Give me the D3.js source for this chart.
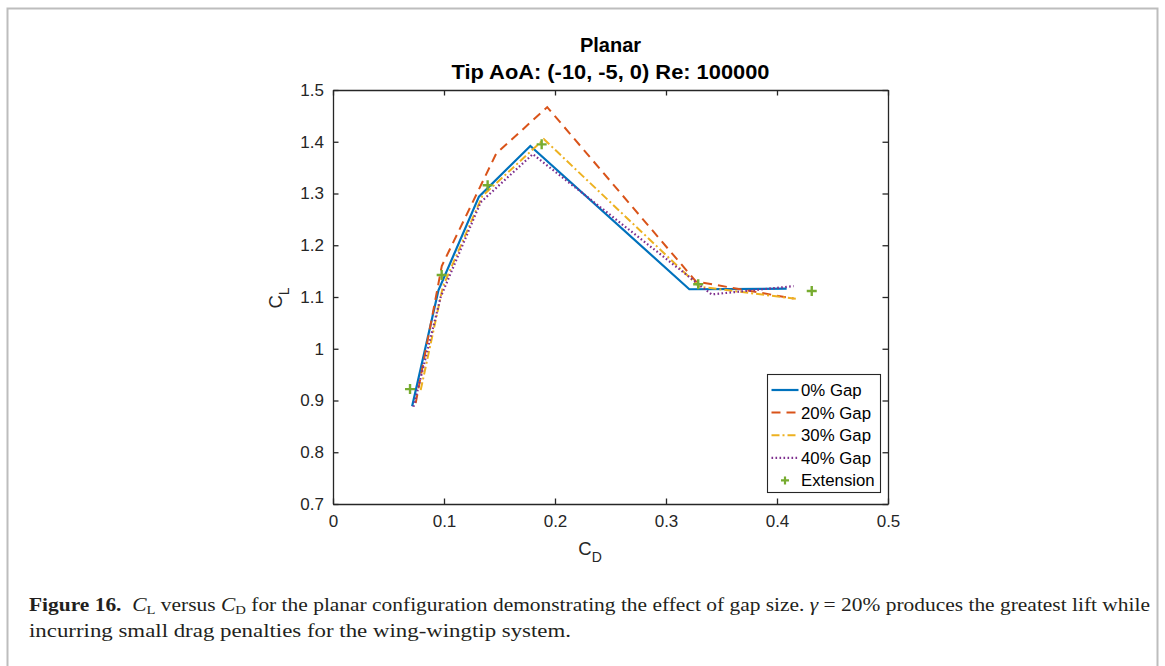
<!DOCTYPE html>
<html><head><meta charset="utf-8">
<script src="https://cdn.jsdelivr.net/npm/d3@7"></script>
<style>html,body{margin:0;padding:0;background:#fff;}</style>
</head><body>
<script>
// ---- data ----
const seriesNames = ["0% Gap", "20% Gap", "30% Gap", "40% Gap"];
const gap0_CD  = [0.0713, 0.0950, 0.1315, 0.1778, 0.3210, 0.4087];
const gap0_CL  = [0.889, 1.113, 1.294, 1.392, 1.115, 1.116];
const gap20_CD = [0.0745, 0.0980, 0.1470, 0.1930, 0.3270, 0.4150];
const gap20_CL = [0.895, 1.160, 1.377, 1.467, 1.130, 1.097];
const gap30_CD = [0.0790, 0.0990, 0.1345, 0.1900, 0.3300, 0.4190];
const gap30_CL = [0.920, 1.120, 1.295, 1.405, 1.120, 1.096];
const gap40_CD = [0.0725, 0.0970, 0.1330, 0.1800, 0.3410, 0.4150];
const gap40_CL = [0.888, 1.100, 1.283, 1.376, 1.105, 1.121];
const ext_CD   = [0.0694, 0.0979, 0.1393, 0.1880, 0.3290, 0.4313];
const ext_CL   = [0.922, 1.1425, 1.316, 1.395, 1.1245, 1.1116];
const xTicks = [0, 0.1, 0.2, 0.3, 0.4, 0.5];
const yTicks = [0.7, 0.8, 0.9, 1, 1.1, 1.2, 1.3, 1.4, 1.5];
const titleLines = ["Planar", "Tip AoA: (-10, -5, 0) Re: 100000"];

const W = 1165, H = 666;
const SANS = "'Liberation Sans', Arial, Helvetica, sans-serif";
const svg = d3.select("body").append("svg").attr("width", W).attr("height", H)
  .style("font-family", SANS);

// outer frame
svg.append("path").attr("d", `M7.5,${H} V8.5 H1157.5 V${H}`)
  .attr("fill", "none").attr("stroke", "#bdbdbd").attr("stroke-width", 2);

const m = {l: 333, r: 888, t: 90, b: 504};
const x = d3.scaleLinear().domain([0, 0.5]).range([m.l, m.r]);
const y = d3.scaleLinear().domain([0.7, 1.5]).range([m.b, m.t]);
const fmt = d => d3.format("")(d);

const axCol = "#262626";
const tickLen = 5.5;
const gx = svg.append("g").attr("transform", `translate(0,${m.b})`)
  .call(d3.axisBottom(x).tickValues(xTicks).tickFormat(fmt).tickSizeInner(-tickLen).tickSizeOuter(0).tickPadding(11));
const gxt = svg.append("g").attr("transform", `translate(0,${m.t})`)
  .call(d3.axisTop(x).tickValues(xTicks).tickFormat("").tickSizeInner(-tickLen).tickSizeOuter(0));
const gy = svg.append("g").attr("transform", `translate(${m.l},0)`)
  .call(d3.axisLeft(y).tickValues(yTicks).tickFormat(fmt).tickSizeInner(-tickLen).tickSizeOuter(0).tickPadding(9));
const gyr = svg.append("g").attr("transform", `translate(${m.r},0)`)
  .call(d3.axisRight(y).tickValues(yTicks).tickFormat("").tickSizeInner(-tickLen).tickSizeOuter(0));
[gx, gxt, gy, gyr].forEach(g => {
  g.selectAll("path.domain").attr("stroke", axCol).attr("stroke-width", 1.3);
  g.selectAll(".tick line").attr("stroke", axCol).attr("stroke-width", 1.3);
  g.selectAll("text").attr("fill", "#262626").style("font-size", "17px")
    .style("font-family", SANS);
});

svg.append("clipPath").attr("id", "clip").append("rect")
  .attr("x", m.l).attr("y", m.t).attr("width", m.r - m.l).attr("height", m.b - m.t);

const colors = ["#0072BD", "#D95319", "#EDB120", "#7E2F8E", "#77AC30"];
const dashes = [null, "9,6", "8,3,2,3", "1.6,2.4"];
const widths = [2.2, 2, 2, 2.2];
const seriesCD = [gap0_CD, gap20_CD, gap30_CD, gap40_CD];
const seriesCL = [gap0_CL, gap20_CL, gap30_CL, gap40_CL];
const line = d3.line().x(d => x(d[0])).y(d => y(d[1]));
const plot = svg.append("g").attr("clip-path", "url(#clip)");
seriesCD.forEach((cd, i) => {
  const pts = cd.map((v, j) => [v, seriesCL[i][j]]);
  plot.append("path").datum(pts).attr("d", line)
    .attr("fill", "none").attr("stroke", colors[i]).attr("stroke-width", widths[i])
    .attr("stroke-dasharray", dashes[i]).attr("stroke-linejoin", "miter");
});
const plusPath = s => `M${-s},0H${s}M0,${-s}V${s}`;
plot.selectAll("path.ext").data(ext_CD.map((v, j) => [v, ext_CL[j]])).join("path")
  .attr("class", "ext")
  .attr("transform", d => `translate(${x(d[0])},${y(d[1])})`)
  .attr("d", plusPath(5)).attr("stroke", colors[4]).attr("stroke-width", 2.4).attr("fill", "none");

// title
svg.append("text").attr("x", (m.l + m.r) / 2).attr("y", 52).attr("text-anchor", "middle")
  .style("font-weight", "bold").style("font-size", "20px").attr("fill", "#000").text(titleLines[0]);
svg.append("text").attr("x", (m.l + m.r) / 2).attr("y", 79).attr("text-anchor", "middle")
  .attr("textLength", 318).attr("lengthAdjust", "spacingAndGlyphs")
  .style("font-weight", "bold").style("font-size", "20px").attr("fill", "#000").text(titleLines[1]);

// axis labels
const xl = svg.append("text").attr("x", 590).attr("y", 555).attr("text-anchor", "middle")
  .style("font-size", "18.5px").attr("fill", "#262626");
xl.append("tspan").text("C");
xl.append("tspan").attr("dy", 7).style("font-size", "14px").text("D");
const yl = svg.append("text").attr("transform", "translate(282,298) rotate(-90)").attr("text-anchor", "middle")
  .style("font-size", "18.5px").attr("fill", "#262626");
yl.append("tspan").text("C");
yl.append("tspan").attr("dy", 7).style("font-size", "14px").text("L");

// legend
const lg = svg.append("g");
lg.append("rect").attr("x", 767.5).attr("y", 374.5).attr("width", 113).attr("height", 118)
  .attr("fill", "#fff").attr("stroke", axCol).attr("stroke-width", 1.1);
const legY = [390, 412.6, 435.2, 457.8, 480.4];
seriesNames.forEach((n, i) => {
  lg.append("line").attr("x1", 771.5).attr("x2", 798.5).attr("y1", legY[i]).attr("y2", legY[i])
    .attr("stroke", colors[i]).attr("stroke-width", widths[i]).attr("stroke-dasharray", dashes[i]);
  lg.append("text").attr("x", 801).attr("y", legY[i] + 6).style("font-size", "16.8px")
    .attr("fill", "#000").text(n);
});
lg.append("path").attr("transform", `translate(785,${legY[4]})`).attr("d", plusPath(4))
  .attr("stroke", colors[4]).attr("stroke-width", 2.2);
lg.append("text").attr("x", 801).attr("y", legY[4] + 6).style("font-size", "16.8px")
  .attr("fill", "#000").text("Extension");

// caption
const cap = svg.append("g").style("font-family", "'Liberation Serif', 'Times New Roman', serif")
  .style("font-size", "19px").attr("fill", "#231f20");
const t1 = cap.append("text").attr("x", 29).attr("y", 611)
  .attr("textLength", 1121).attr("lengthAdjust", "spacingAndGlyphs");
t1.append("tspan").style("font-weight", "bold").text("Figure 16.");
t1.append("tspan").text("\u2002");
t1.append("tspan").style("font-style", "italic").text("C");
t1.append("tspan").attr("dy", 3).style("font-size", "13px").text("L");
t1.append("tspan").attr("dy", -3).text(" versus ");
t1.append("tspan").style("font-style", "italic").text("C");
t1.append("tspan").attr("dy", 3).style("font-size", "13px").text("D");
t1.append("tspan").attr("dy", -3).text(" for the planar configuration demonstrating the effect of gap size. ");
t1.append("tspan").style("font-style", "italic").text("\u03b3");
t1.append("tspan").text(" = 20% produces the greatest lift while");
cap.append("text").attr("x", 29).attr("y", 637)
  .attr("textLength", 542).attr("lengthAdjust", "spacingAndGlyphs")
  .text("incurring small drag penalties for the wing-wingtip system.");
</script>
</body></html>
